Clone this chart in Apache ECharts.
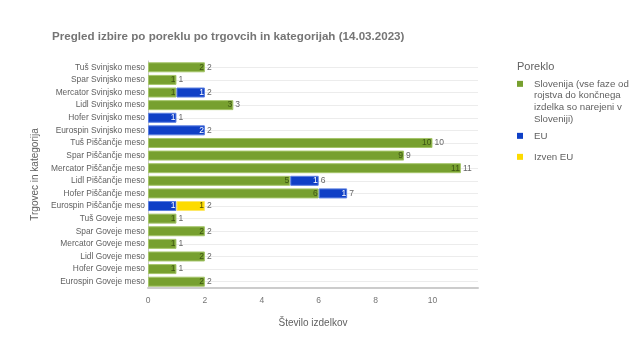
<!DOCTYPE html>
<html><head><meta charset="utf-8">
<script src="https://cdn.jsdelivr.net/npm/echarts@6/dist/echarts.min.js"></script>
<style>html,body{margin:0;padding:0;background:#fff}#c{width:640px;height:356px}</style>
</head><body><div id="c"></div>
<script>
const categories = [
  'Tuš Svinjsko meso','Spar Svinjsko meso','Mercator Svinjsko meso','Lidl Svinjsko meso','Hofer Svinjsko meso','Eurospin Svinjsko meso',
  'Tuš Piščančje meso','Spar Piščančje meso','Mercator Piščančje meso','Lidl Piščančje meso','Hofer Piščančje meso','Eurospin Piščančje meso',
  'Tuš Goveje meso','Spar Goveje meso','Mercator Goveje meso','Lidl Goveje meso','Hofer Goveje meso','Eurospin Goveje meso'
];
const slovenija = [2,1,1,3,null,null,10,9,11,5,6,null,1,2,1,2,1,2];
const eu        = [null,null,1,null,1,2,null,null,null,1,1,1,null,null,null,null,null,null];
const izvenEU   = [null,null,null,null,null,null,null,null,null,null,null,1,null,null,null,null,null,null];
const xTicks = [0,2,4,6,8,10];
const seriesNames = ['Slovenija (vse faze od\nrojstva do končnega\nizdelka so narejeni v\nSloveniji)','EU','Izven EU'];
const totals = categories.map((c,i)=>(slovenija[i]||0)+(eu[i]||0)+(izvenEU[i]||0));

const FONT = '"Liberation Sans", Arial, sans-serif';
const chart = echarts.init(document.getElementById('c'));
const barCommon = (name, data, color, border, labelColor) => ({
  name, type:'bar', stack:'t', data, barWidth:10, z:3,
  itemStyle:{color, borderColor:border, borderWidth:1},
  label:{show:true, position:'insideRight', distance:1, color:labelColor, fontSize:8.5, fontFamily:FONT,
    formatter:p=>p.value==null?'':p.value}
});
const legendBase = {
  orient:'vertical', left:517, padding:0, itemWidth:6, itemHeight:6, selectedMode:false,
  itemStyle:{borderWidth:0},
  textStyle:{fontSize:9.7, color:'#616161', lineHeight:11.7, fontFamily:FONT, padding:[0,0,0,6]}
};
chart.setOption({
  animation:false,
  textStyle:{fontFamily:FONT},
  title:[
    {text:'Pregled izbire po poreklu po trgovcih in kategorijah (14.03.2023)', left:52, top:31, padding:0,
     textStyle:{fontSize:11.6, fontWeight:'bold', color:'#757575', fontFamily:FONT}},
    {text:'Poreklo', left:517, top:61, padding:0, textStyle:{fontSize:11, fontWeight:'normal', color:'#616161', fontFamily:FONT}}
  ],
  legend:[
    Object.assign({}, legendBase, {top:78, itemHeight:41.1,
      data:[{name:seriesNames[0], icon:'path://M0,0H6V6H0Z M0,41.1L0,41.1'}]}),
    Object.assign({}, legendBase, {top:130, icon:'rect', data:[seriesNames[1]]}),
    Object.assign({}, legendBase, {top:151, icon:'rect', data:[seriesNames[2]]})
  ],
  grid:{left:148, top:61, width:330, height:227, containLabel:false},
  xAxis:{type:'value', min:0, max:11.6, interval:2,
    name:'Število izdelkov', nameLocation:'middle', nameGap:30,
    nameTextStyle:{fontSize:10, color:'#616161'},
    axisLine:{show:true, lineStyle:{color:'#cccccc', width:2}},
    axisTick:{show:false}, splitLine:{show:false},
    axisLabel:{fontSize:8.5, color:'#757575', margin:8, showMaxLabel:false,
      formatter:v=>xTicks.indexOf(v)>=0?String(v):''}
  },
  yAxis:{type:'category', data:categories, inverse:true,
    name:'Trgovec in kategorija', nameLocation:'middle', nameGap:100, nameRotate:90,
    nameTextStyle:{fontSize:10, color:'#616161'},
    axisLine:{show:true, lineStyle:{color:'#cccccc', width:1}},
    axisTick:{show:false}, splitLine:{show:false},
    axisLabel:{fontSize:8.4, color:'#616161', margin:3, interval:0}
  },
  series:[
    barCommon(seriesNames[0], slovenija, '#77a02f', '#a5c56a', '#3c5414'),
    barCommon(seriesNames[1], eu, '#0f3fc6', '#5a7ee0', '#ffffff'),
    barCommon(seriesNames[2], izvenEU, '#fddb00', '#fde866', '#4d4d00'),
    {name:'total', type:'bar', stack:'t', data:totals.map(()=>0), barWidth:10, z:1,
     itemStyle:{color:'transparent'},
     label:{show:true, position:'right', distance:2, color:'#666', fontSize:8.5, fontFamily:FONT,
       formatter:p=>String(totals[p.dataIndex])},
     markLine:{silent:true, z:0, symbol:'none', label:{show:false},
       lineStyle:{color:'#ececec', width:1, type:'solid'},
       data:categories.map(c=>({yAxis:c}))}
    }
  ]
});
</script></body></html>
